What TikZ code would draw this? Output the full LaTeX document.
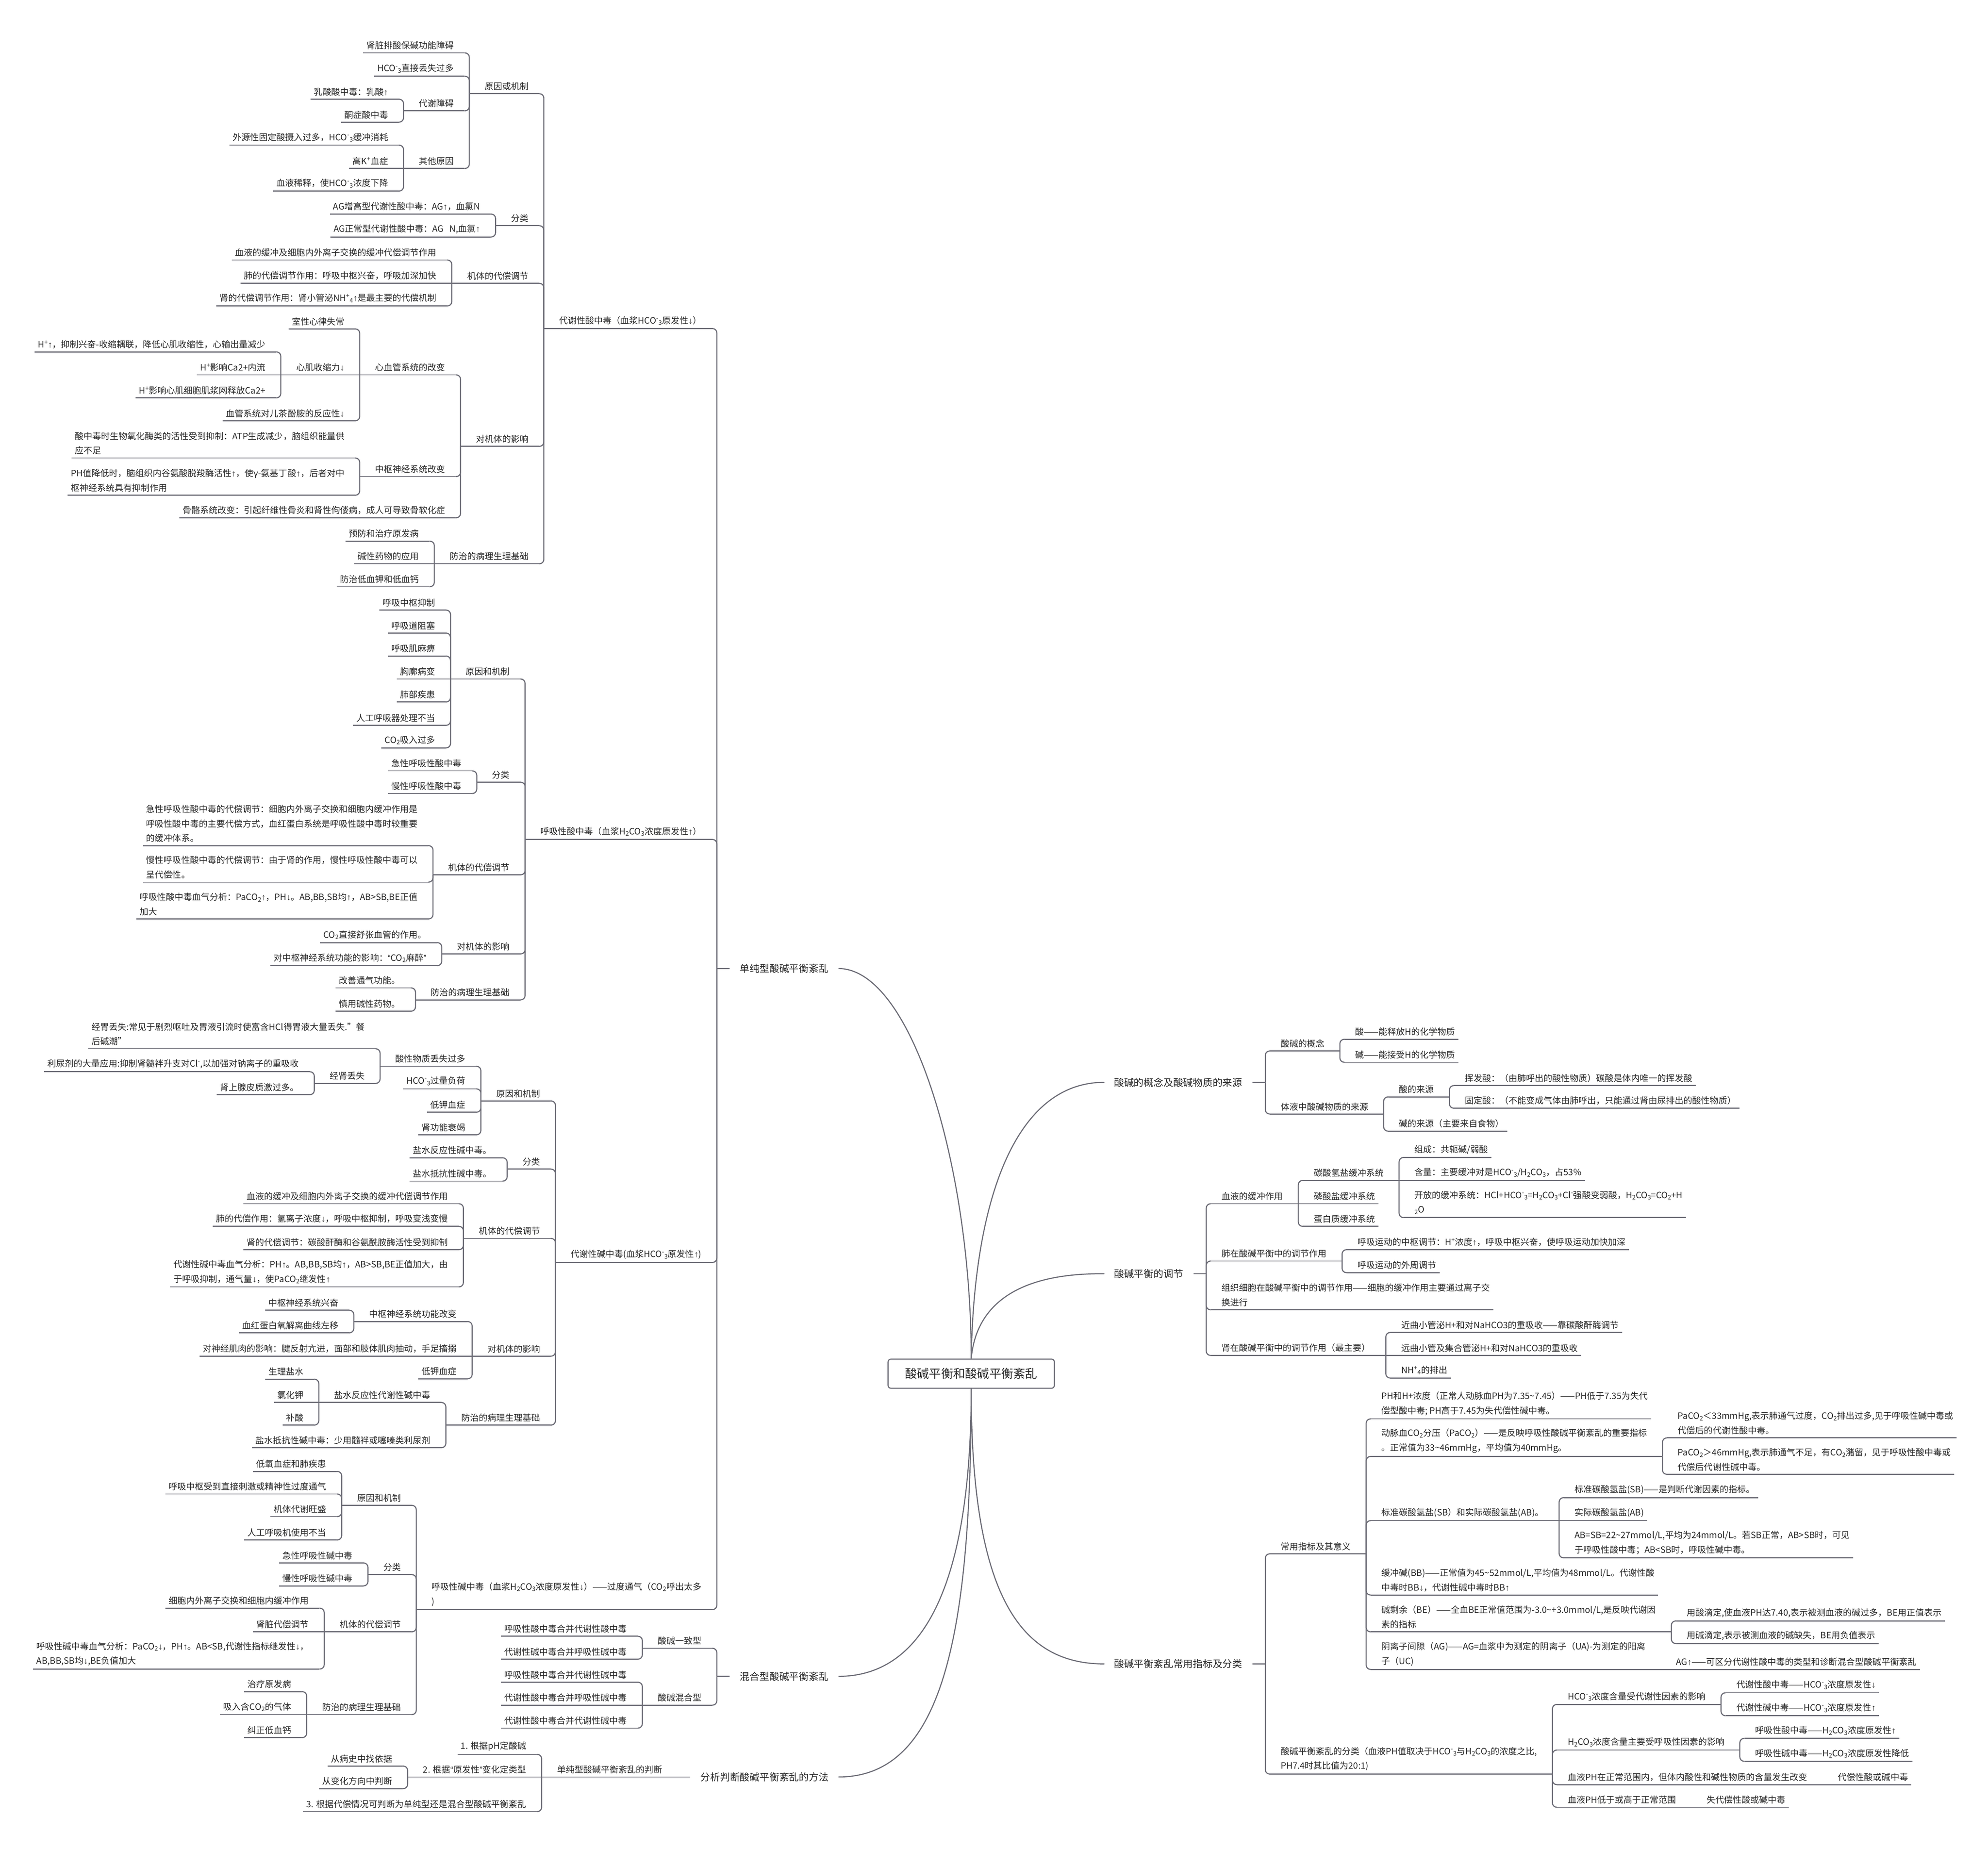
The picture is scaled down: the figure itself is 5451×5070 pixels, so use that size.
\documentclass[tikz,border=0pt]{standalone}
\usepackage{fontspec}
\setmainfont{Noto Sans CJK SC}
\newfontfamily\arrfont{Liberation Sans}
\usetikzlibrary{calc}
\definecolor{lc}{RGB}{108,108,118}
\definecolor{tc}{RGB}{40,40,40}
\newcommand\myup{{\arrfont ↑}}
\newcommand\mydn{{\arrfont ↓}}
\newcommand\myLQ{{\arrfont “}}
\newcommand\myRQ{{\arrfont ”}}
\newcommand\hcoo{HCO\textsuperscript{-}\textsubscript{3}}
\newcommand\hhco{H\textsubscript{2}CO\textsubscript{3}}
\newcommand\coo{CO\textsubscript{2}}
\newcommand\fsN{\fontsize{24pt}{40pt}\selectfont}
\newcommand\fsF{\fontsize{27pt}{36pt}\selectfont}
\newcommand\fsC{\fontsize{33pt}{40pt}\selectfont}
\tikzset{
  txt/.style={inner sep=0pt, font=\fsN, text=tc, align=left},
  lone/.style={inner sep=0pt, font=\fsF, text=tc},
  rootbox/.style={draw=lc, line width=3pt, rounded corners=8pt, fill=white, minimum width=456pt, minimum height=80pt, font=\fsC, text=tc, inner sep=0pt},
  ul/.style={draw=lc, line width=3pt},
  conn/.style={draw=lc, line width=3pt, rounded corners=12pt},
  mcurve/.style={draw=lc, line width=3pt},
}
% left-side node: name, parent, underline y, pad, text
\newcommand\mmL[5]{%
  \coordinate (ytmp) at (0,#3);
  \path (#2-l) ++(-42,0) coordinate (xtmp);
  \node[txt, anchor=south east, yshift=9pt] (#1) at (xtmp |- ytmp) {#5};
  \path (#2-l) ++(-13,0) coordinate (rtmp);
  \coordinate (#1-r) at (rtmp |- ytmp);
  \path (#1.west) ++(-#4,0) coordinate (ltmp);
  \coordinate (#1-l) at (ltmp |- ytmp);
  \draw[ul] (#1-l) -- (#1-r);
  \draw[conn] (#2-l) |- (#1-r);
}
\newcommand\mmLs[5]{%
  \coordinate (ytmp) at (0,#3);
  \path (#2-l) ++(-42,0) coordinate (xtmp);
  \node[txt, anchor=south east, yshift=9pt] (#1) at (xtmp |- ytmp) {#5};
  \path (#2-l) ++(-13,0) coordinate (rtmp);
  \coordinate (#1-r) at (rtmp |- ytmp);
  \path (#1.west) ++(-#4,0) coordinate (ltmp);
  \coordinate (#1-l) at (ltmp |- ytmp);
  \draw[ul] (#1-l) -- (#1-r);
  \draw[ul] (#1-r) -- (#2-l);
}
% right-side node
\newcommand\mmR[5]{%
  \coordinate (ytmp) at (0,#3);
  \path (#2-r) ++(42,0) coordinate (xtmp);
  \node[txt, anchor=south west, yshift=9pt] (#1) at (xtmp |- ytmp) {#5};
  \path (#2-r) ++(13,0) coordinate (ltmp);
  \coordinate (#1-l) at (ltmp |- ytmp);
  \path (#1.east) ++(#4,0) coordinate (rtmp);
  \coordinate (#1-r) at (rtmp |- ytmp);
  \draw[ul] (#1-l) -- (#1-r);
  \draw[conn] (#2-r) |- (#1-l);
}
\newcommand\mmRs[5]{%
  \coordinate (ytmp) at (0,#3);
  \path (#2-r) ++(42,0) coordinate (xtmp);
  \node[txt, anchor=south west, yshift=9pt] (#1) at (xtmp |- ytmp) {#5};
  \path (#2-r) ++(13,0) coordinate (ltmp);
  \coordinate (#1-l) at (ltmp |- ytmp);
  \path (#1.east) ++(#4,0) coordinate (rtmp);
  \coordinate (#1-r) at (rtmp |- ytmp);
  \draw[ul] (#1-l) -- (#1-r);
  \draw[ul] (#2-r) -- (#1-l);
}
\begin{document}
\begin{tikzpicture}[x=1pt,y=-1pt]
\fill[white] (0,0) rectangle (5451,5070);
\useasboundingbox (0,0) rectangle (5451,5070);

% ---------- root ----------
\node[rootbox] (R) at (2663,3767) {酸碱平衡和酸碱平衡紊乱};

% ---------- first level, left ----------
\node[lone, anchor=east] (S) at (2272,2656) {单纯型酸碱平衡紊乱};
\path (S.west) ++(-63,0) coordinate (S-l);
\path (S.east) ++(27,0) coordinate (S-c);
\draw[ul] (S-l) -- ++(35,0);

\node[lone, anchor=east] (M) at (2272,4597) {混合型酸碱平衡紊乱};
\path (M.west) ++(-63,0) coordinate (M-l);
\path (M.east) ++(27,0) coordinate (M-c);
\draw[ul] (M-l) -- ++(35,0);

\node[lone, anchor=east] (F) at (2272,4873) {分析判断酸碱平衡紊乱的方法};
\path (F.west) ++(-63,0) coordinate (F-l);
\path (F.east) ++(27,0) coordinate (F-c);
\draw[ul] (F-l) -- ++(35,0);

% ---------- first level, right ----------
\node[lone, anchor=west] (A) at (3055,2968) {酸碱的概念及酸碱物质的来源};
\path (A.east) ++(63,0) coordinate (A-r);
\path (A.west) ++(-27,0) coordinate (A-c);
\draw[ul] (A-r) -- ++(-35,0);

\node[lone, anchor=west] (B) at (3055,3493) {酸碱平衡的调节};
\path (B.east) ++(63,0) coordinate (B-r);
\path (B.west) ++(-27,0) coordinate (B-c);
\draw[ul] (B-r) -- ++(-35,0);

\node[lone, anchor=west] (C) at (3055,4563) {酸碱平衡紊乱常用指标及分类};
\path (C.east) ++(63,0) coordinate (C-r);
\path (C.west) ++(-27,0) coordinate (C-c);
\draw[ul] (C-r) -- ++(-35,0);

% ---------- curves from root ----------
\draw[mcurve] (R.north) .. controls (2663,3200) and (2500,2656) .. (S-c);
\draw[mcurve] (R.south) .. controls (2663,4350) and (2530,4597) .. (M-c);
\draw[mcurve] (R.south) .. controls (2663,4500) and (2580,4873) .. (F-c);
\draw[mcurve] (R.north) .. controls (2670,3300) and (2780,2968) .. (A-c);
\draw[mcurve] (R.north) .. controls (2680,3540) and (2850,3491) .. (B-c);
\draw[mcurve] (R.south) .. controls (2663,4380) and (2800,4563) .. (C-c);

% ========== 代谢性酸中毒 ==========
\mmL{MA}{S}{901}{42}{代谢性酸中毒（血浆\hcoo{}原发性\mydn）}
\mmL{MAa}{MA}{257}{42}{原因或机制}
\mmL{MAaa}{MAa}{145}{9}{肾脏排酸保碱功能障碍}
\mmL{MAab}{MAa}{209}{9}{\hcoo{}直接丢失过多}
\mmL{MAac}{MAa}{304}{42}{代谢障碍}
\mmL{MAaca}{MAac}{272}{9}{乳酸酸中毒：乳酸\myup}
\mmL{MAacb}{MAac}{335}{9}{酮症酸中毒}
\mmL{MAad}{MAa}{462}{42}{其他原因}
\mmL{MAada}{MAad}{398}{9}{外源性固定酸摄入过多，\hcoo{}缓冲消耗}
\mmLs{MAadb}{MAad}{462}{9}{高K\textsuperscript{+}血症}
\mmL{MAadc}{MAad}{524}{9}{血液稀释，使\hcoo{}浓度下降}
\mmL{MAb}{MA}{619}{42}{分类}
\mmL{MAba}{MAb}{587}{9}{AG增高型代谢性酸中毒：AG\myup，血氯N}
\mmL{MAbb}{MAb}{650}{9}{AG正常型代谢性酸中毒：AG\ \ \ N,血氯\myup}
\mmL{MAc}{MA}{777}{42}{机体的代偿调节}
\mmL{MAca}{MAc}{713}{9}{血液的缓冲及细胞内外离子交换的缓冲代偿调节作用}
\mmLs{MAcb}{MAc}{777}{9}{肺的代偿调节作用：呼吸中枢兴奋，呼吸加深加快}
\mmL{MAcc}{MAc}{839}{9}{肾的代偿调节作用：肾小管泌NH\textsuperscript{+}\textsubscript{4}\myup{}是最主要的代偿机制}
\mmL{MAd}{MA}{1224}{42}{对机体的影响}
\mmL{MAda}{MAd}{1028}{42}{心血管系统的改变}
\mmL{MAdaa}{MAda}{902}{9}{室性心律失常}
\mmLs{MAdab}{MAda}{1028}{42}{心肌收缩力\mydn}
\mmL{MAdaba}{MAdab}{965}{9}{H\textsuperscript{+}\myup，抑制兴奋-收缩耦联，降低心肌收缩性，心输出量减少}
\mmLs{MAdabb}{MAdab}{1028}{9}{H\textsuperscript{+}影响Ca2+内流}
\mmL{MAdabc}{MAdab}{1091}{9}{H\textsuperscript{+}影响心肌细胞肌浆网释放Ca2+}
\mmL{MAdac}{MAda}{1154}{9}{血管系统对儿茶酚胺的反应性\mydn}
\mmL{MAdb}{MAd}{1307}{42}{中枢神经系统改变}
\mmL{MAdba}{MAdb}{1256}{9}{酸中毒时生物氧化酶类的活性受到抑制：ATP生成减少，脑组织能量供\\应不足}
\mmL{MAdbb}{MAdb}{1358}{9}{PH值降低时，脑组织内谷氨酸脱羧酶活性\myup，使γ-氨基丁酸\myup，后者对中\\枢神经系统具有抑制作用}
\mmL{MAdc}{MAd}{1420}{9}{骨骼系统改变：引起纤维性骨炎和肾性佝偻病，成人可导致骨软化症}
\mmL{MAe}{MA}{1546}{42}{防治的病理生理基础}
\mmL{MAea}{MAe}{1484}{9}{预防和治疗原发病}
\mmLs{MAeb}{MAe}{1546}{9}{碱性药物的应用}
\mmL{MAec}{MAe}{1609}{9}{防治低血钾和低血钙}

% ========== 呼吸性酸中毒 ==========
\mmL{RA}{S}{2302}{42}{呼吸性酸中毒（血浆\hhco{}浓度原发性\myup）}
\mmL{RAa}{RA}{1862}{42}{原因和机制}
\mmL{RAaa}{RAa}{1673}{9}{呼吸中枢抑制}
\mmL{RAab}{RAa}{1736}{9}{呼吸道阻塞}
\mmL{RAac}{RAa}{1799}{9}{呼吸肌麻痹}
\mmLs{RAad}{RAa}{1862}{9}{胸廓病变}
\mmL{RAae}{RAa}{1925}{9}{肺部疾患}
\mmL{RAaf}{RAa}{1989}{9}{人工呼吸器处理不当}
\mmL{RAag}{RAa}{2051}{9}{\coo{}吸入过多}
\mmL{RAb}{RA}{2145}{42}{分类}
\mmL{RAba}{RAb}{2114}{9}{急性呼吸性酸中毒}
\mmL{RAbb}{RAb}{2176}{9}{慢性呼吸性酸中毒}
\mmL{RAc}{RA}{2399}{42}{机体的代偿调节}
\mmL{RAca}{RAc}{2319}{9}{急性呼吸性酸中毒的代偿调节：细胞内外离子交换和细胞内缓冲作用是\\呼吸性酸中毒的主要代偿方式，血红蛋白系统是呼吸性酸中毒时较重要\\的缓冲体系。}
\mmL{RAcb}{RAc}{2419}{9}{慢性呼吸性酸中毒的代偿调节：由于肾的作用，慢性呼吸性酸中毒可以\\呈代偿性。}
\mmL{RAcc}{RAc}{2520}{9}{呼吸性酸中毒血气分析：PaCO\textsubscript{2}\myup，PH\mydn。AB,BB,SB均\myup，AB>SB,BE正值\\加大}
\mmL{RAd}{RA}{2616}{42}{对机体的影响}
\mmL{RAda}{RAd}{2585}{9}{\coo{}直接舒张血管的作用。}
\mmL{RAdb}{RAd}{2648}{9}{对中枢神经系统功能的影响：\myLQ\coo{}麻醉\myRQ}
\mmL{RAe}{RA}{2742}{42}{防治的病理生理基础}
\mmL{RAea}{RAe}{2709}{9}{改善通气功能。}
\mmL{RAeb}{RAe}{2773}{9}{慎用碱性药物。}

% ========== 代谢性碱中毒 ==========
\mmL{MK}{S}{3462}{42}{代谢性碱中毒(血浆\hcoo{}原发性\myup)}
\mmL{MKa}{MK}{3019}{42}{原因和机制}
\mmL{MKaa}{MKa}{2924}{42}{酸性物质丢失过多}
\mmL{MKaaa}{MKaa}{2876}{9}{经胃丢失:常见于剧烈呕吐及胃液引流时使富含HCl得胃液大量丢失."餐\\后碱潮"}
\mmL{MKaab}{MKaa}{2971}{42}{经肾丢失}
\mmL{MKaaba}{MKaab}{2939}{9}{利尿剂的大量应用:抑制肾髓袢升支对Cl\textsuperscript{-},以加强对钠离子的重吸收}
\mmL{MKaabb}{MKaab}{3002}{9}{肾上腺皮质激过多。}
\mmL{MKab}{MKa}{2986}{9}{\hcoo{}过量负荷}
\mmL{MKac}{MKa}{3050}{9}{低钾血症}
\mmL{MKad}{MKa}{3112}{9}{肾功能衰竭}
\mmL{MKb}{MK}{3206}{42}{分类}
\mmL{MKba}{MKb}{3175}{9}{盐水反应性碱中毒。}
\mmL{MKbb}{MKb}{3239}{9}{盐水抵抗性碱中毒。}
\mmL{MKc}{MK}{3396}{42}{机体的代偿调节}
\mmL{MKca}{MKc}{3301}{9}{血液的缓冲及细胞内外离子交换的缓冲代偿调节作用}
\mmL{MKcb}{MKc}{3363}{9}{肺的代偿作用：氢离子浓度\mydn，呼吸中枢抑制，呼吸变浅变慢}
\mmL{MKcc}{MKc}{3427}{9}{肾的代偿调节：碳酸酐酶和谷氨酰胺酶活性受到抑制}
\mmL{MKcd}{MKc}{3529}{9}{代谢性碱中毒血气分析：PH\myup。AB,BB,SB均\myup，AB>SB,BE正值加大，由\\于呼吸抑制，通气量\mydn，使PaCO\textsubscript{2}继发性\myup}
\mmL{MKd}{MK}{3719}{42}{对机体的影响}
\mmL{MKda}{MKd}{3624}{42}{中枢神经系统功能改变}
\mmL{MKdaa}{MKda}{3593}{9}{中枢神经系统兴奋}
\mmL{MKdab}{MKda}{3655}{9}{血红蛋白氧解离曲线左移}
\mmLs{MKdb}{MKd}{3719}{9}{对神经肌肉的影响：腱反射亢进，面部和肢体肌肉抽动，手足搐搦}
\mmL{MKdc}{MKd}{3781}{9}{低钾血症}
\mmL{MKe}{MK}{3908}{42}{防治的病理生理基础}
\mmL{MKea}{MKe}{3846}{42}{盐水反应性代谢性碱中毒}
\mmL{MKeaa}{MKea}{3782}{9}{生理盐水}
\mmLs{MKeab}{MKea}{3846}{9}{氯化钾}
\mmL{MKeac}{MKea}{3908}{9}{补酸}
\mmL{MKeb}{MKe}{3970}{9}{盐水抵抗性碱中毒：少用髓袢或噻嗪类利尿剂}

% ========== 呼吸性碱中毒 ==========
\mmL{RK}{S}{4414}{42}{呼吸性碱中毒（血浆\hhco{}浓度原发性\mydn）——过度通气（\coo{}呼出太多\\)}
\mmL{RKa}{RK}{4128}{42}{原因和机制}
\mmL{RKaa}{RKa}{4035}{9}{低氧血症和肺疾患}
\mmL{RKab}{RKa}{4097}{9}{呼吸中枢受到直接刺激或精神性过度通气}
\mmL{RKac}{RKa}{4159}{9}{机体代谢旺盛}
\mmL{RKad}{RKa}{4223}{9}{人工呼吸机使用不当}
\mmL{RKb}{RK}{4318}{42}{分类}
\mmL{RKba}{RKb}{4286}{9}{急性呼吸性碱中毒}
\mmL{RKbb}{RKb}{4349}{9}{慢性呼吸性碱中毒}
\mmL{RKc}{RK}{4475}{42}{机体的代偿调节}
\mmL{RKca}{RKc}{4410}{9}{细胞内外离子交换和细胞内缓冲作用}
\mmLs{RKcb}{RKc}{4475}{9}{肾脏代偿调节}
\mmL{RKcc}{RKc}{4577}{9}{呼吸性碱中毒血气分析：PaCO\textsubscript{2}\mydn，PH\myup。AB<SB,代谢性指标继发性\mydn，\\AB,BB,SB均\mydn,BE负值加大}
\mmL{RKd}{RK}{4702}{42}{防治的病理生理基础}
\mmL{RKda}{RKd}{4639}{9}{治疗原发病}
\mmLs{RKdb}{RKd}{4702}{9}{吸入含\coo{}的气体}
\mmL{RKdc}{RKd}{4765}{9}{纠正低血钙}

% ========== 混合型 ==========
\mmL{Ma}{M}{4520}{42}{酸碱一致型}
\mmL{Maa}{Ma}{4487}{9}{呼吸性酸中毒合并代谢性酸中毒}
\mmL{Mab}{Ma}{4550}{9}{代谢性碱中毒合并呼吸性碱中毒}
\mmL{Mb}{M}{4676}{42}{酸碱混合型}
\mmL{Mba}{Mb}{4613}{9}{呼吸性酸中毒合并代谢性碱中毒}
\mmLs{Mbb}{Mb}{4676}{9}{代谢性酸中毒合并呼吸性碱中毒}
\mmL{Mbc}{Mb}{4739}{9}{代谢性酸中毒合并代谢性碱中毒}

% ========== 分析判断 ==========
\mmLs{Fa}{F}{4873}{42}{单纯型酸碱平衡紊乱的判断}
\mmL{Faa}{Fa}{4811}{9}{1. 根据pH定酸碱}
\mmLs{Fab}{Fa}{4873}{42}{2. 根据\myLQ{}原发性\myRQ{}变化定类型}
\mmL{Faba}{Fab}{4843}{9}{从病史中找依据}
\mmL{Fabb}{Fab}{4905}{9}{从变化方向中判断}
\mmL{Fac}{Fa}{4968}{9}{3. 根据代偿情况可判断为单纯型还是混合型酸碱平衡紊乱}

% ========== 酸碱的概念及来源 ==========
\mmR{Aa}{A}{2882}{42}{酸碱的概念}
\mmR{Aaa}{Aa}{2850}{9}{酸——能释放H的化学物质}
\mmR{Aab}{Aa}{2913}{9}{碱——能接受H的化学物质}
\mmR{Ab}{A}{3055}{42}{体液中酸碱物质的来源}
\mmR{Aba}{Ab}{3008}{42}{酸的来源}
\mmR{Abaa}{Aba}{2977}{9}{挥发酸：（由肺呼出的酸性物质）碳酸是体内唯一的挥发酸}
\mmR{Abab}{Aba}{3039}{9}{固定酸：（不能变成气体由肺呼出，只能通过肾由尿排出的酸性物质）}
\mmR{Abb}{Ab}{3102}{9}{碱的来源（主要来自食物）}

% ========== 酸碱平衡的调节 ==========
\mmR{Ba}{B}{3301}{42}{血液的缓冲作用}
\mmR{Baa}{Ba}{3237}{42}{碳酸氢盐缓冲系统}
\mmR{Baaa}{Baa}{3174}{9}{组成：共轭碱/弱酸}
\mmRs{Baab}{Baa}{3237}{9}{含量：主要缓冲对是\hcoo{}/\hhco{}，占53\%}
\mmR{Baac}{Baa}{3339}{9}{开放的缓冲系统：HCl+\hcoo{}=\hhco{}+Cl\textsuperscript{-}强酸变弱酸，\hhco{}=\coo{}+H\\\textsubscript{2}O}
\mmRs{Bab}{Ba}{3301}{9}{磷酸盐缓冲系统}
\mmR{Bac}{Ba}{3363}{9}{蛋白质缓冲系统}
\mmR{Bb}{B}{3458}{42}{肺在酸碱平衡中的调节作用}
\mmR{Bba}{Bb}{3427}{9}{呼吸运动的中枢调节：H\textsuperscript{+}浓度\myup，呼吸中枢兴奋，使呼吸运动加快加深}
\mmR{Bbb}{Bb}{3490}{9}{呼吸运动的外周调节}
\mmR{Bc}{B}{3592}{9}{组织细胞在酸碱平衡中的调节作用——细胞的缓冲作用主要通过离子交\\换进行}
\mmR{Bd}{B}{3717}{42}{肾在酸碱平衡中的调节作用（最主要）}
\mmR{Bda}{Bd}{3654}{9}{近曲小管泌H+和对NaHCO3的重吸收——靠碳酸酐酶调节}
\mmRs{Bdb}{Bd}{3717}{9}{远曲小管及集合管泌H+和对NaHCO3的重吸收}
\mmR{Bdc}{Bd}{3779}{9}{NH\textsuperscript{+}\textsubscript{4}的排出}

% ========== 常用指标及分类 ==========
\mmR{Ca}{C}{4261}{42}{常用指标及其意义}
\mmR{Caa}{Ca}{3891}{9}{PH和H+浓度（正常人动脉血PH为7.35\textasciitilde7.45）——PH低于7.35为失代\\偿型酸中毒; PH高于7.45为失代偿性碱中毒。}
\mmR{Cab}{Ca}{3994}{42}{动脉血\coo{}分压（PaCO\textsubscript{2}）——是反映呼吸性酸碱平衡紊乱的重要指标\\。正常值为33\textasciitilde46mmHg，平均值为40mmHg。}
\mmR{Caba}{Cab}{3943}{9}{PaCO\textsubscript{2}＜33mmHg,表示肺通气过度，\coo{}排出过多,见于呼吸性碱中毒或\\代偿后的代谢性酸中毒。}
\mmR{Cabb}{Cab}{4043}{9}{PaCO\textsubscript{2}＞46mmHg,表示肺通气不足，有\coo{}潴留，见于呼吸性酸中毒或\\代偿后代谢性碱中毒。}
\mmR{Cac}{Ca}{4170}{42}{标准碳酸氢盐(SB）和实际碳酸氢盐(AB)。}
\mmR{Caca}{Cac}{4107}{9}{标准碳酸氢盐(SB)——是判断代谢因素的指标。}
\mmRs{Cacb}{Cac}{4170}{9}{实际碳酸氢盐(AB)}
\mmR{Cacc}{Cac}{4272}{9}{AB=SB=22\textasciitilde27mmol/L,平均为24mmol/L。若SB正常，AB>SB时，可见\\于呼吸性酸中毒；AB<SB时，呼吸性碱中毒。}
\mmR{Cad}{Ca}{4374}{9}{缓冲碱(BB)——正常值为45\textasciitilde52mmol/L,平均值为48mmol/L。代谢性酸\\中毒时BB\mydn，代谢性碱中毒时BB\myup}
\mmR{Cae}{Ca}{4475}{42}{碱剩余（BE）——全血BE正常值范围为-3.0\textasciitilde+3.0mmol/L,是反映代谢因\\素的指标}
\mmR{Caea}{Cae}{4445}{9}{用酸滴定,使血液PH达7.40,表示被测血液的碱过多，BE用正值表示}
\mmR{Caeb}{Cae}{4507}{9}{用碱滴定,表示被测血液的碱缺失，BE用负值表示}
\mmR{Caf}{Ca}{4578}{42}{阴离子间隙（AG)——AG=血浆中为测定的阴离子（UA)-为测定的阳离\\子（UC)}
\mmRs{Cafa}{Caf}{4578}{9}{AG\myup——可区分代谢性酸中毒的类型和诊断混合型酸碱平衡紊乱}
\mmR{Cb}{C}{4865}{42}{酸碱平衡紊乱的分类（血液PH值取决于\hcoo{}与\hhco{}的浓度之比,\\PH7.4时其比值为20:1)}
\mmR{Cba}{Cb}{4674}{42}{\hcoo{}浓度含量受代谢性因素的影响}
\mmR{Cbaa}{Cba}{4642}{9}{代谢性酸中毒——\hcoo{}浓度原发性\mydn}
\mmR{Cbab}{Cba}{4705}{9}{代谢性碱中毒——\hcoo{}浓度原发性\myup}
\mmR{Cbb}{Cb}{4799}{42}{\hhco{}浓度含量主要受呼吸性因素的影响}
\mmR{Cbba}{Cbb}{4767}{9}{呼吸性酸中毒——\hhco{}浓度原发性\myup}
\mmR{Cbbb}{Cbb}{4830}{9}{呼吸性碱中毒——\hhco{}浓度原发性降低}
\mmR{Cbc}{Cb}{4894}{42}{血液PH在正常范围内，但体内酸性和碱性物质的含量发生改变}
\mmRs{Cbca}{Cbc}{4894}{9}{代偿性酸或碱中毒}
\mmR{Cbd}{Cb}{4956}{42}{血液PH低于或高于正常范围}
\mmRs{Cbda}{Cbd}{4956}{9}{失代偿性酸或碱中毒}

\end{tikzpicture}
\end{document}
